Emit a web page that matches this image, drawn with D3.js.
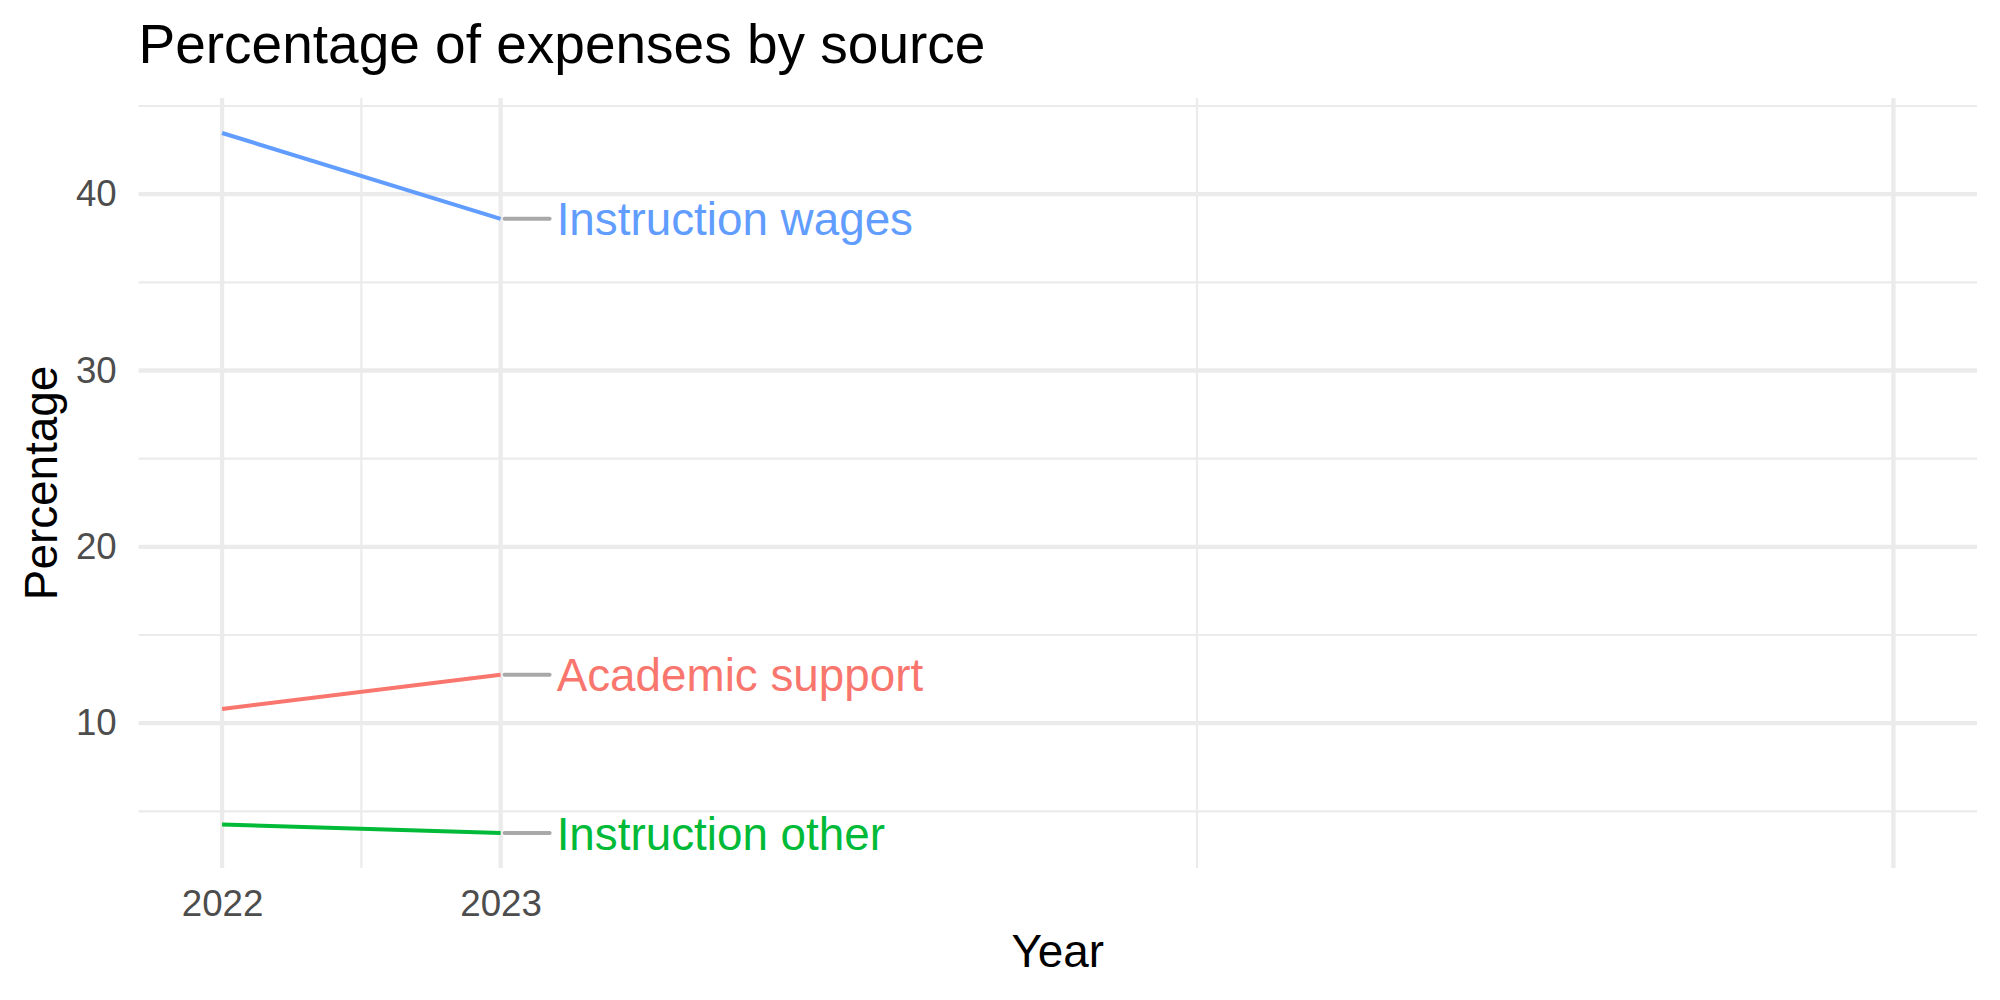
<!DOCTYPE html>
<html>
<head>
<meta charset="utf-8">
<script src="https://cdn.jsdelivr.net/npm/d3@7"></script>
<style>
  body { margin: 0; background: #fff; }
  text { font-family: "Liberation Sans", Arial, Helvetica, sans-serif; }
</style>
</head>
<body>
<div id="chart"></div>
<script>
const years = [2022, 2023];
const sources = ["Academic support", "Instruction other", "Instruction wages"];
const academicSupport = [10.8, 12.75];
const instructionOther = [4.25, 3.77];
const instructionWages = [43.47, 38.6];
const seriesColors = ["#F8766D", "#00BA38", "#619CFF"];

const xLimits = [2022, 2028];
const xBreaks = [2022, 2023, 2028];
const xTickLabels = ["2022", "2023", ""];
const xMinorBreaks = [2022.5, 2025.5];
const yBreaks = [10, 20, 30, 40];
const yMinorBreaks = [5, 15, 25, 35, 45];

const W = 2000, H = 1000;
const margin = {top: 98, right: 23, bottom: 132, left: 138.5},
      width = W - margin.left - margin.right,
      height = H - margin.top - margin.bottom;

const series = sources.map((name, i) => ({
  name,
  color: seriesColors[i],
  values: [academicSupport, instructionOther, instructionWages][i].map((v, j) => ({year: years[j], value: v}))
}));

const svgRoot = d3.select("#chart")
  .append("svg")
  .attr("width", W)
  .attr("height", H);

const svg = svgRoot.append("g")
  .attr("transform", `translate(${margin.left},${margin.top})`);

// ggplot style 5% expansion
const xPad = (xLimits[1] - xLimits[0]) * 0.05;
const x = d3.scaleLinear()
  .domain([xLimits[0] - xPad, xLimits[1] + xPad])
  .range([0, width]);

const allValues = series.flatMap(s => s.values.map(d => d.value));
const yMin = d3.min(allValues), yMax = d3.max(allValues);
const yPad = (yMax - yMin) * 0.05;
const y = d3.scaleLinear()
  .domain([yMin - yPad, yMax + yPad])
  .range([height, 0]);

// grid
const grid = svg.append("g");

grid.selectAll(".y-minor")
  .data(yMinorBreaks.filter(d => y(d) >= 0 && y(d) <= height))
  .enter().append("line")
  .attr("x1", 0).attr("x2", width)
  .attr("y1", d => y(d)).attr("y2", d => y(d))
  .attr("stroke", "#EBEBEB").attr("stroke-width", 2.2);

grid.selectAll(".x-minor")
  .data(xMinorBreaks)
  .enter().append("line")
  .attr("x1", d => x(d)).attr("x2", d => x(d))
  .attr("y1", 0).attr("y2", height)
  .attr("stroke", "#EBEBEB").attr("stroke-width", 2.2);

grid.selectAll(".y-major")
  .data(yBreaks)
  .enter().append("line")
  .attr("x1", 0).attr("x2", width)
  .attr("y1", d => y(d)).attr("y2", d => y(d))
  .attr("stroke", "#EBEBEB").attr("stroke-width", 4.3);

grid.selectAll(".x-major")
  .data(xBreaks)
  .enter().append("line")
  .attr("x1", d => x(d)).attr("x2", d => x(d))
  .attr("y1", 0).attr("y2", height)
  .attr("stroke", "#EBEBEB").attr("stroke-width", 4.3);

// axes (labels only)
const xAxis = svg.append("g")
  .attr("transform", `translate(0,${height})`)
  .call(d3.axisBottom(x)
    .tickValues(xBreaks)
    .tickFormat((d, i) => xTickLabels[i])
    .tickSize(0)
    .tickPadding(21.7));

const yAxis = svg.append("g")
  .call(d3.axisLeft(y)
    .tickValues(yBreaks)
    .tickFormat(d3.format("d"))
    .tickSize(0)
    .tickPadding(21.8));

[xAxis, yAxis].forEach(a => {
  a.select(".domain").remove();
  a.selectAll("text")
    .attr("fill", "#4D4D4D")
    .style("font-size", "36.7px")
    .style("font-family", "'Liberation Sans', Arial, sans-serif");
});

// lines
const line = d3.line()
  .x(d => x(d.year))
  .y(d => y(d.value));

svg.selectAll(".series")
  .data(series)
  .enter().append("path")
  .attr("class", "series")
  .attr("d", d => line(d.values))
  .attr("fill", "none")
  .attr("stroke", d => d.color)
  .attr("stroke-width", 4);

// end labels with leader segments
const last = s => s.values[s.values.length - 1];

svg.selectAll(".leader")
  .data(series)
  .enter().append("line")
  .attr("x1", d => x(last(d).year) + 4)
  .attr("x2", d => x(last(d).year) + 49)
  .attr("y1", d => y(last(d).value))
  .attr("y2", d => y(last(d).value))
  .attr("stroke", "#A9A9A9")
  .attr("stroke-width", 4)
  .attr("stroke-linecap", "round");

svg.selectAll(".end-label")
  .data(series)
  .enter().append("text")
  .attr("class", "end-label")
  .attr("x", d => x(last(d).year) + 56)
  .attr("y", d => y(last(d).value) + 16.5)
  .attr("fill", d => d.color)
  .style("font-size", "45.8px")
  .text(d => d.name);

// titles
svgRoot.append("text")
  .attr("x", margin.left)
  .attr("y", 62.7)
  .style("font-size", "55px")
  .attr("fill", "#000")
  .text("Percentage of expenses by source");

svgRoot.append("text")
  .attr("x", margin.left + width / 2)
  .attr("y", 967)
  .attr("text-anchor", "middle")
  .style("font-size", "45.8px")
  .attr("fill", "#000")
  .text("Year");

svgRoot.append("text")
  .attr("transform", `translate(57,${margin.top + height / 2}) rotate(-90)`)
  .attr("text-anchor", "middle")
  .style("font-size", "45.8px")
  .attr("fill", "#000")
  .text("Percentage");
</script>
</body>
</html>
